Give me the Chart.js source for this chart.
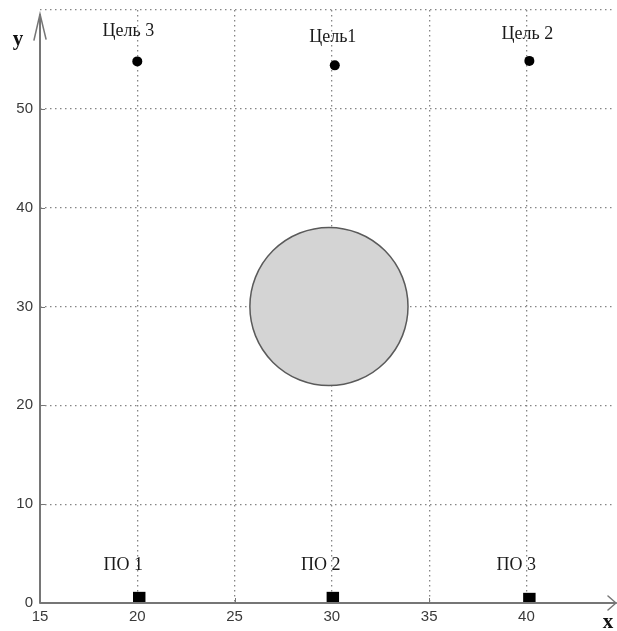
<!DOCTYPE html>
<html>
<head>
<meta charset="utf-8">
<script src="https://cdn.jsdelivr.net/npm/chart.js@4/dist/chart.umd.min.js"></script>
<style>
html,body{margin:0;padding:0;background:#fff;}
#wrap{width:617px;height:631px;position:relative;}
</style>
</head>
<body>
<div id="wrap"><canvas id="c" width="617" height="631"></canvas></div>
<script>
// ---- data ----
const targetNames = ['Цель1', 'Цель 2', 'Цель 3'];
const targetX = [30.15, 40.15, 20.0];
const targetY = [54.4, 54.85, 54.8];

const stationNames = ['ПО 1', 'ПО 2', 'ПО 3'];
const stationX = [20.1, 30.05, 40.15];
const stationY = [0.5, 0.5, 0.4];

const obstacleCenter = [29.85, 30];
const obstacleRadiusY = 8;   // radius in y-axis units

const xTicks = [15, 20, 25, 30, 35, 40];
const yTicks = [0, 10, 20, 30, 40, 50, 60];
const yTickLabels = ['0', '10', '20', '30', '40', '50', ''];
const xAxisName = 'x';
const yAxisName = 'y';

// ---- styles ----
const targetLabelOffsets = [[-2, -28], [-2, -27], [-9, -30]];
const stationLabelOffsets = [[-16, -33], [-12, -33], [-13, -34]];
const axisColor = '#767676';
const gridColor = '#858585';
const serif = '"Liberation Serif", "Times New Roman", serif';

const targets = targetX.map((x, i) => ({x, y: targetY[i]}));
const stations = stationX.map((x, i) => ({x, y: stationY[i]}));

const overlay = {
  id: 'overlay',
  beforeDatasetsDraw(chart) {
    const {ctx, scales: {x, y}} = chart;
    const x0 = x.getPixelForValue(x.min);
    const y0 = y.getPixelForValue(y.min);
    ctx.save();
    ctx.strokeStyle = axisColor;
    ctx.lineWidth = 1;
    ctx.beginPath();
    yTicks.slice(0, -1).forEach(v => {
      const p = Math.round(y.getPixelForValue(v)) + 0.5;
      ctx.moveTo(x0, p); ctx.lineTo(x0 + 5, p);
    });
    xTicks.forEach(v => {
      const p = Math.round(x.getPixelForValue(v)) + 0.5;
      ctx.moveTo(p, y0); ctx.lineTo(p, y0 - 5);
    });
    ctx.stroke();
    ctx.restore();
  },
  afterDatasetsDraw(chart) {
    const {ctx, scales: {x, y}} = chart;
    const x0 = x.getPixelForValue(x.min);
    const y0 = y.getPixelForValue(y.min);
    ctx.save();
    // axes
    ctx.strokeStyle = axisColor;
    ctx.lineWidth = 2;
    ctx.lineCap = 'round';
    ctx.beginPath();
    ctx.moveTo(x0, y0);
    ctx.lineTo(x0, 15);
    ctx.moveTo(x0, y0);
    ctx.lineTo(616, y0);
    ctx.stroke();
    // arrows
    ctx.lineWidth = 1.5;
    ctx.beginPath();
    ctx.moveTo(x0 - 6, 40); ctx.lineTo(x0, 14); ctx.lineTo(x0 + 6, 39);
    ctx.moveTo(608, y0 - 7); ctx.lineTo(616, y0); ctx.lineTo(608, y0 + 7);
    ctx.stroke();
    // axis names
    ctx.fillStyle = '#111';
    ctx.font = 'bold 21px ' + serif;
    ctx.textAlign = 'center';
    ctx.textBaseline = 'middle';
    ctx.fillText(yAxisName, 18, 40);
    ctx.fillText(xAxisName, 608, 623);
    // point labels
    ctx.font = '18px ' + serif;
    ctx.fillStyle = '#1a1a1a';
    targets.forEach((p, i) => {
      const px = x.getPixelForValue(p.x) + targetLabelOffsets[i][0];
      const py = y.getPixelForValue(p.y) + targetLabelOffsets[i][1];
      ctx.fillText(targetNames[i], px, py);
    });
    stations.forEach((p, i) => {
      const px = x.getPixelForValue(p.x) + stationLabelOffsets[i][0];
      const py = y.getPixelForValue(p.y) + stationLabelOffsets[i][1];
      ctx.fillText(stationNames[i], px, py);
    });
    ctx.restore();
  }
};

new Chart(document.getElementById('c'), {
  type: 'scatter',
  data: {
    datasets: [
      {
        label: 'obstacle',
        data: [{x: obstacleCenter[0], y: obstacleCenter[1]}],
        pointStyle: 'circle',
        backgroundColor: '#d4d4d4',
        borderColor: '#5a5a5a',
        borderWidth: 1.5,
        pointRadius: ctx => {
          const s = ctx.chart.scales.y;
          return Math.abs(s.getPixelForValue(obstacleCenter[1] - obstacleRadiusY) - s.getPixelForValue(obstacleCenter[1]));
        },
        order: 3
      },
      {
        label: 'targets',
        data: targets,
        pointStyle: 'circle',
        pointRadius: 5,
        backgroundColor: '#000',
        borderColor: '#000',
        borderWidth: 0,
        order: 2
      },
      {
        label: 'stations',
        data: stations,
        pointStyle: 'rect',
        pointRadius: 8.8,
        backgroundColor: '#000',
        borderColor: '#000',
        borderWidth: 0,
        order: 1
      }
    ]
  },
  options: {
    responsive: false,
    animation: false,
    events: [],
    layout: {autoPadding: false, padding: {top: 10, right: 3, left: 0, bottom: 0}},
    plugins: {legend: {display: false}, tooltip: {enabled: false}},
    scales: {
      x: {
        type: 'linear',
        min: 15,
        max: 44.5,
        afterBuildTicks: s => { s.ticks = xTicks.map(v => ({value: v})); },
        afterFit: s => { s.height = 28; s.paddingLeft = 0; s.paddingRight = 0; },
        ticks: {
          color: '#3a3a3a',
          font: {family: '"Liberation Sans", Arial, sans-serif', size: 15},
          padding: 5,
          maxRotation: 0,
          autoSkip: false
        },
        grid: {color: ctx => (ctx.tick && ctx.tick.value === 15 ? 'rgba(0,0,0,0)' : gridColor), lineWidth: 1.3, drawTicks: false},
        border: {display: false, dash: [1.5, 3.5]}
      },
      y: {
        type: 'linear',
        min: 0,
        max: 60,
        afterBuildTicks: s => { s.ticks = yTicks.map(v => ({value: v})); },
        afterFit: s => { s.width = 40; s.paddingTop = 0; s.paddingBottom = 0; },
        ticks: {
          color: '#3a3a3a',
          font: {family: '"Liberation Sans", Arial, sans-serif', size: 15},
          padding: 7,
          autoSkip: false,
          callback: (v, i) => yTickLabels[i]
        },
        grid: {color: ctx => (ctx.tick && ctx.tick.value === 0 ? 'rgba(0,0,0,0)' : gridColor), lineWidth: 1.3, drawTicks: false},
        border: {display: false, dash: [1.5, 3.5]}
      }
    }
  },
  plugins: [overlay]
});
</script>
</body>
</html>
